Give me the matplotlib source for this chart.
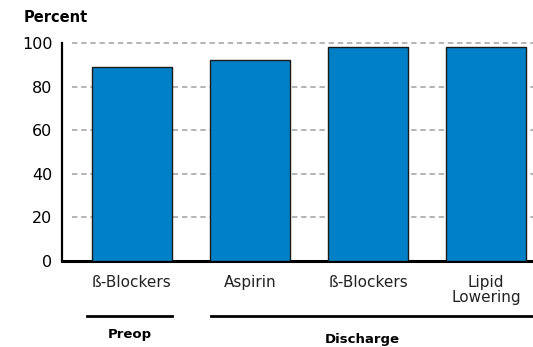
import matplotlib
matplotlib.use("Agg")
import matplotlib.pyplot as plt

categories = ["ß-Blockers", "Aspirin", "ß-Blockers", "Lipid\nLowering"]
values = [89, 92, 98, 98]
yticks = [0, 20, 40, 60, 80, 100]
groups = ["Preop", "Discharge"]

plt.rcParams["font.family"] = ["DejaVu Sans"]

W, H = 533, 347
fig = plt.figure(figsize=(W / 100, H / 100), dpi=100)
ax = fig.add_axes([62 / W, 1 - 261 / H, (W - 62) / W, (261 - 43) / H])

x = list(range(len(categories)))
ax.bar(x, values, width=0.68, color="#0080c6", edgecolor="#1a1a1a",
       linewidth=1.0, zorder=3)

ax.set_xlim(-0.593, 3.398)
ax.set_ylim(0, 100)
ax.set_yticks(yticks)
ax.set_yticklabels([str(t) for t in yticks], fontsize=11.5)
ax.tick_params(axis="y", length=0, pad=7)
ax.tick_params(axis="x", length=0, pad=10)
ax.set_xticks(x)
ax.set_xticklabels(categories, fontsize=11, color="#222222", linespacing=1.05)

for t in yticks[1:]:
    ax.plot([-0.508, 3.398], [t, t], color="#a0a0a0", lw=1.1,
            dashes=(3.5, 2.5), zorder=1, clip_on=False)

for s in ["top", "right"]:
    ax.spines[s].set_visible(False)
ax.spines["left"].set_linewidth(1.6)
ax.spines["bottom"].set_linewidth(2.2)

fig.text(24 / W, 1 - 17 / H, "Percent", fontsize=10.5, fontweight="bold",
         ha="left", va="center")

# group brackets under the category labels
trans = ax.get_xaxis_transform()
ax.plot([-0.38, 0.34], [-0.25, -0.25], color="black", lw=2, transform=trans,
        clip_on=False)
ax.plot([-0.33 + 1, 3.398], [-0.25, -0.25], color="black", lw=2,
        transform=trans, clip_on=False)
ax.text(-0.02, -0.335, groups[0], fontsize=9.5, fontweight="bold",
        ha="center", va="center", transform=trans)
ax.text(1.95, -0.36, groups[1], fontsize=9.5, fontweight="bold",
        ha="center", va="center", transform=trans)

fig.savefig("out.png", dpi=100)
